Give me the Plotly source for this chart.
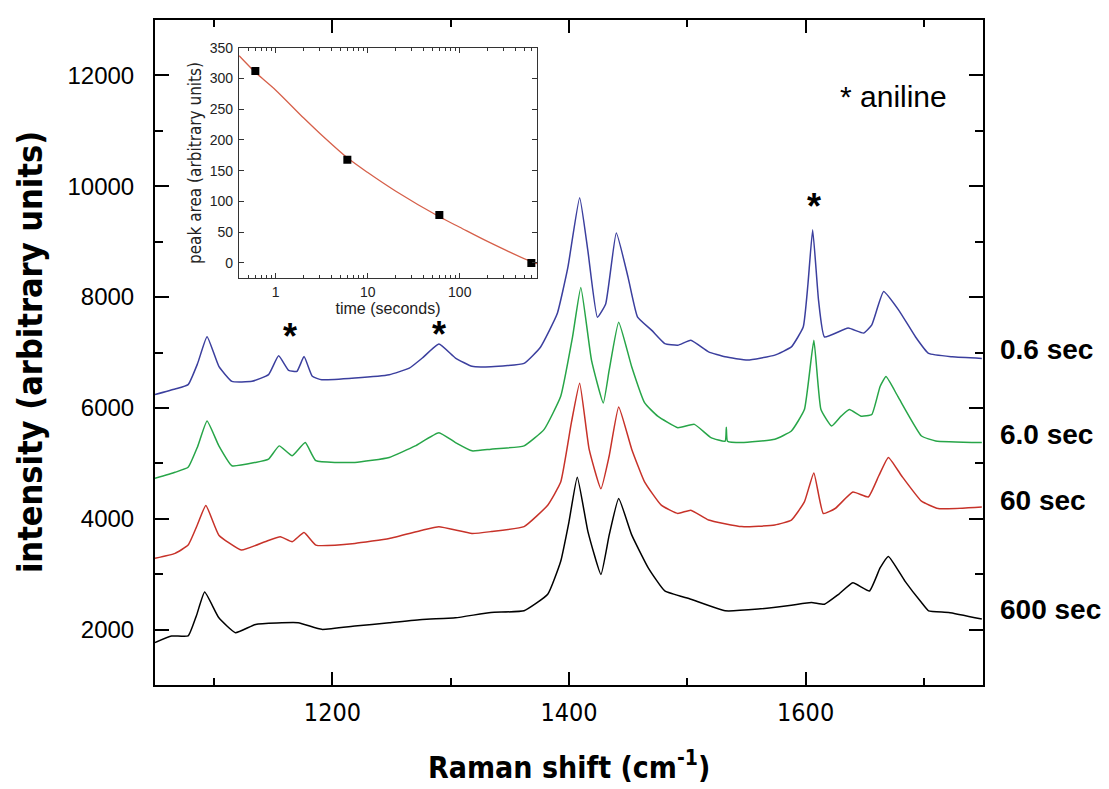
import plotly.graph_objects as go

# ---------------- main spectra ----------------
x_06 = [1050,1067,1078,1086,1094,1104,1115,1132,1146,1154.5,1163,1170,1176,1183,1191,1219,1248,1265,1276,1290,1304,1318,1334,1362,1376,1390,1399,1409,1416,1424,1431,1440,1450,1458,1470,1481,1492,1503,1518,1532,1551,1574,1588,1598,1602,1606,1611,1616,1636,1649,1656,1666,1679,1693,1704,1724,1749]
y_06 = [6240,6340,6420,6800,7284,6750,6480,6480,6600,6940,6676,6660,6926,6570,6508,6540,6600,6717,6900,7153,6900,6750,6744,6804,7100,7697,8530,9792,8828,7637,7875,9155,8352,7637,7399,7161,7131,7221,7012,6923,6863,6953,7101,7459,8232,9214,7935,7280,7440,7350,7500,8100,7756,7280,6983,6923,6893]

x_6 = [1050,1067,1078,1086,1094,1104,1115,1135,1146,1155,1166,1177,1186,1219,1248,1270,1290,1304,1318,1334,1362,1379,1393,1403,1410,1419,1429,1434,1442,1453,1464,1475,1492,1506,1520,1532,1533,1534,1546,1574,1588,1599,1607,1613,1622,1630,1637,1647,1656,1663,1668,1678,1698,1710,1749]
y_6 = [4730,4838,4928,5300,5763,5315,4957,5017,5077,5315,5136,5375,5047,5017,5106,5315,5554,5375,5225,5256,5316,5613,6209,7280,8173,6863,6090,6685,7548,6744,6090,5851,5643,5703,5465,5400,5650,5400,5375,5435,5583,5970,7220,5970,5672,5851,5970,5851,5881,6387,6565,6208,5494,5404,5375]

x_60 = [1050,1067,1078,1086,1093,1104,1123,1143,1156,1166,1176,1186,1219,1248,1276,1290,1318,1334,1362,1382,1393,1402,1409,1417,1427,1434,1442,1453,1464,1478,1492,1503,1518,1546,1574,1588,1599,1607,1615,1625,1640,1653,1662,1670,1681,1698,1712,1749]
y_60 = [3287,3376,3525,3900,4241,3704,3436,3585,3675,3585,3752,3525,3555,3645,3794,3854,3734,3768,3858,4245,4661,5733,6447,5256,4542,5137,6018,5256,4661,4245,4096,4155,3977,3858,3887,3976,4304,4827,4095,4185,4482,4393,4780,5107,4780,4318,4184,4214]

x_600 = [1050,1064,1078,1085,1092,1104,1118,1135,1171,1191,1219,1248,1276,1304,1334,1362,1382,1393,1400,1407,1416,1427,1434,1442,1453,1467,1481,1503,1532,1560,1588,1605,1616,1628,1640,1654,1663,1670,1684,1698,1704,1721,1749]
y_600 = [1766,1885,1885,2250,2678,2212,1944,2093,2123,2004,2063,2123,2183,2212,2310,2340,2637,3233,3947,4750,3768,2995,3709,4364,3709,3114,2697,2548,2340,2370,2440,2488,2458,2637,2845,2697,3113,3321,2875,2488,2339,2310,2190]

series_names = ["0.6 sec", "6.0 sec", "60 sec", "600 sec"]
series_colors = ["#3b3f9e", "#27a548", "#c73229", "#000000"]
label_y = [7060, 5520, 4330, 2370]

# ---------------- inset data ----------------
t_pts = [0.6, 6, 60, 600]
area_pts = [312, 168, 78, 0]
t_fit = [0.4, 0.6, 1, 2, 3, 6, 10, 20, 60, 100, 200, 600, 690]
area_fit = [337, 310, 281, 236, 211, 171, 147, 117, 75, 58, 35, 2, -1]

# asterisk annotations (x, y data)
star_x = [1164, 1290, 1607.5]
star_y = [7290, 7330, 9640]

NARROW = "DejaVu Sans Condensed, Liberation Sans Narrow, Arial Narrow, sans-serif"
SANS = "Liberation Sans, Arial, sans-serif"

fig = go.Figure()
for xs, ys, c, n in zip([x_06, x_6, x_60, x_600], [y_06, y_6, y_60, y_600], series_colors, series_names):
    fig.add_trace(go.Scatter(x=xs, y=ys, mode="lines", name=n,
                             line=dict(color=c, width=1.5, shape="spline", smoothing=0.4),
                             showlegend=False))

fig.add_trace(go.Scatter(x=t_fit, y=area_fit, mode="lines", xaxis="x2", yaxis="y2",
                         line=dict(color="#d6604a", width=1.3, shape="spline", smoothing=0.8),
                         showlegend=False))
fig.add_trace(go.Scatter(x=t_pts, y=area_pts, mode="markers", xaxis="x2", yaxis="y2",
                         marker=dict(symbol="square", size=8, color="black"),
                         showlegend=False))

inset_x = [0.1014, 0.4614]
inset_y = [0.6116, 0.9583]

fig.update_layout(
    width=1109, height=789,
    margin=dict(l=155, r=126, t=13, b=104),
    plot_bgcolor="white", paper_bgcolor="white",
    xaxis=dict(range=[1050, 1750], tick0=1000, dtick=200, ticks="inside", ticklen=13,
               tickwidth=2, tickcolor="black", showline=True, linewidth=2, linecolor="black",
               mirror="ticks", showgrid=False, zeroline=False, tickformat="d",
               tickfont=dict(family=NARROW, size=25, color="black"),
               minor=dict(dtick=100, ticks="inside", ticklen=7, tickwidth=2, tickcolor="black"),
               ticklabelstandoff=4),
    yaxis=dict(range=[1000, 13000], tick0=0, dtick=2000, ticks="inside", ticklen=14,
               tickwidth=2, tickcolor="black", showline=True, linewidth=2, linecolor="black",
               mirror="ticks", showgrid=False, zeroline=False, tickformat="d",
               tickfont=dict(family=SANS, size=24, color="black"),
               minor=dict(dtick=1000, ticks="inside", ticklen=8, tickwidth=2, tickcolor="black"),
               ticklabelstandoff=14),
    xaxis2=dict(type="log", range=[-0.4, 2.84], domain=inset_x, anchor="y2",
                tick0=0, dtick=1,
                ticks="inside", ticklen=5, tickwidth=1, tickcolor="#333",
                showline=True, linewidth=1.3, linecolor="#333", mirror="ticks",
                showgrid=False, zeroline=False,
                tickfont=dict(family=SANS, size=14, color="#222"),
                minor=dict(dtick="D1", ticks="inside", ticklen=3, tickwidth=1, tickcolor="#333", showgrid=False),
                ticklabelstandoff=1,
                title=dict(text="time (seconds)", standoff=0,
                           font=dict(family=SANS, size=16, color="#222"))),
    yaxis2=dict(range=[-25, 350], domain=inset_y, anchor="x2", dtick=50, tick0=0,
                ticks="inside", ticklen=5, tickwidth=1, tickcolor="#333",
                showline=True, linewidth=1.3, linecolor="#333", mirror="ticks",
                showgrid=False, zeroline=False,
                tickfont=dict(family=SANS, size=14, color="#222"),
                ticklabelstandoff=2,
                title=dict(text="peak area (arbitrary units)", standoff=3,
                           font=dict(family=NARROW, size=17, color="#222"))),
)

ann = []
for n, yv, in zip(series_names, label_y):
    ann.append(dict(x=1.0185, xref="paper", y=yv, yref="y", text="<b>" + n + "</b>",
                    showarrow=False, xanchor="left", yanchor="middle",
                    font=dict(family=SANS, size=28, color="black")))
for sx, sy in zip(star_x, star_y):
    ann.append(dict(x=sx, y=sy, xref="x", yref="y", text="<b>*</b>", showarrow=False,
                    font=dict(family=SANS, size=36, color="black")))
ann.append(dict(x=1627, y=11620, xref="x", yref="y", text="* aniline", showarrow=False,
                xanchor="left", yanchor="middle", font=dict(family=SANS, size=30, color="black")))
ann.append(dict(x=-0.178, y=0.5, xref="paper", yref="paper", text="<b>intensity (arbitrary units)</b>",
                textangle=-90, showarrow=False, font=dict(family=NARROW, size=34, color="black")))
ann.append(dict(x=0.5, y=-0.153, xref="paper", yref="paper", yanchor="bottom",
                text="<b>Raman shift (cm<sup>-1</sup>)</b>", showarrow=False,
                font=dict(family=NARROW, size=30, color="black")))
fig.update_layout(annotations=ann)

fig.write_html("out.html", config={"displayModeBar": False},
               post_script="document.body.style.margin='0';")
